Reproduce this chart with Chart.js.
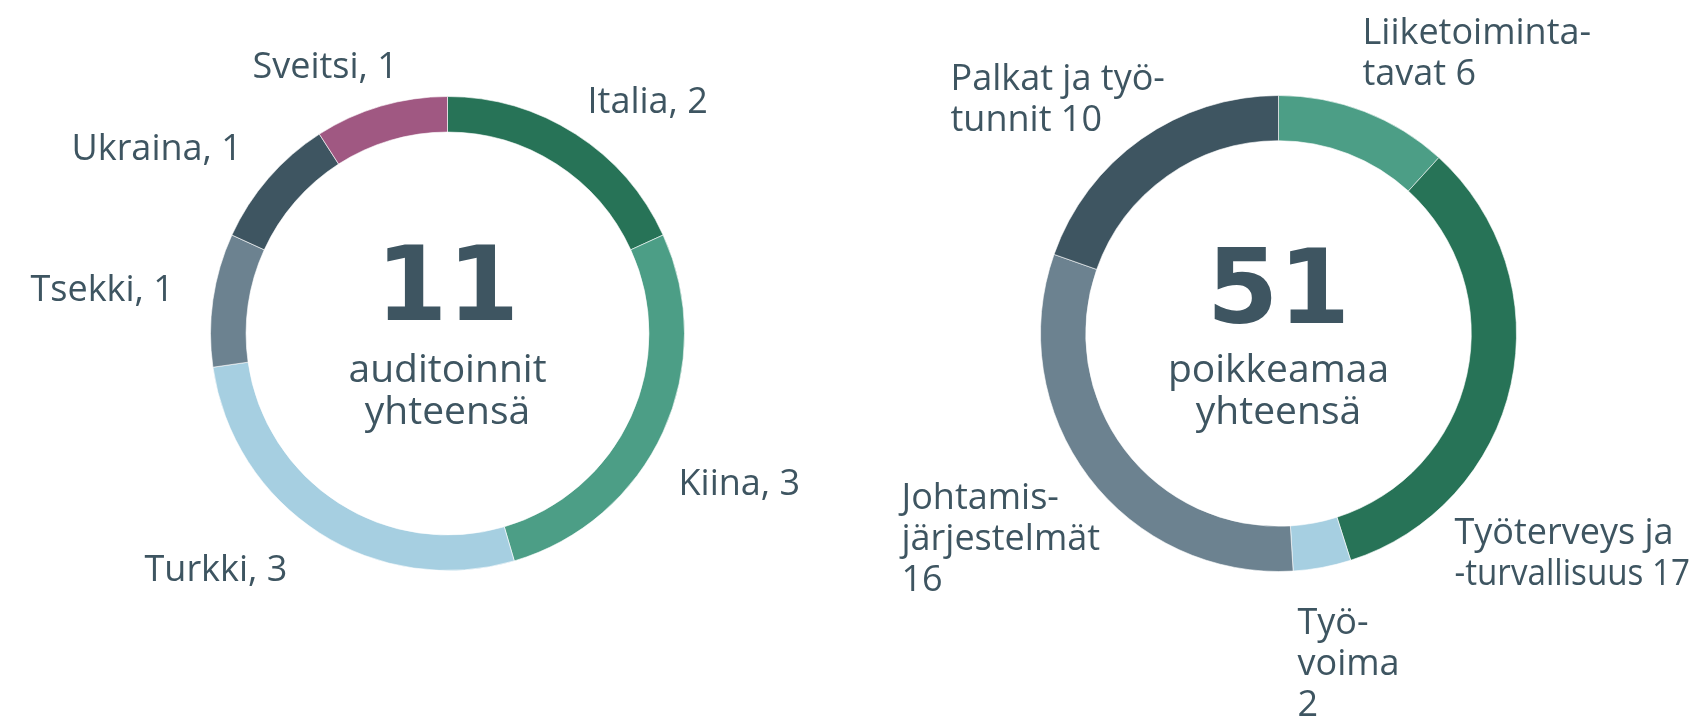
<!DOCTYPE html>
<html lang="fi">
<head>
<meta charset="utf-8">
<title>Auditoinnit ja poikkeamat</title>
<script src="https://cdn.jsdelivr.net/npm/chart.js@4/dist/chart.umd.min.js"></script>
<style>
  html, body { margin: 0; padding: 0; background: #fff; }
  .wrap { position: relative; width: 1696px; height: 718px; }
  canvas { position: absolute; top: 0; }
  #audits { left: 0; }
  #findings { left: 848px; }
</style>
</head>
<body>
<div class="wrap">
  <canvas id="audits" width="848" height="718"></canvas>
  <canvas id="findings" width="848" height="718"></canvas>
</div>
<script>
// Auditoinnit maittain
const auditCountries = ["Italia", "Kiina", "Turkki", "Tsekki", "Ukraina", "Sveitsi"];
const auditCounts = [2, 3, 3, 1, 1, 1];
const auditColors = ["#277357", "#4c9e86", "#a6cfe1", "#6c8290", "#3e5561", "#a05882"];

// Poikkeamat aihealueittain (rivit erikseen, koska nimet on tavutettu)
const findingTopics = [
  ["Liiketoiminta-", "tavat"],
  ["Työterveys ja", "-turvallisuus"],
  ["Työ-", "voima"],
  ["Johtamis-", "järjestelmät"],
  ["Palkat ja työ-", "tunnit"]
];
const findingCounts = [6, 17, 2, 16, 10];
const findingColors = ["#4c9e86", "#277357", "#a6cfe1", "#6c8290", "#3e5561"];

const textColor = "#3e5561";
const labelFont = "36px 'Open Sans', sans-serif";
const captionFont = "39px 'Open Sans', sans-serif";
const lineHeight = 41;

// label anchors, relative to the donut centre
const auditLabelPos = [[140, -231], [231, 151], [-303, 237], [-417, -43], [-376, -184], [-195, -266]];
const findingLabelPos = [[84, -300], [176, 200], [19, 290], [-377, 165], [-328, -254]];

const sum = arr => arr.reduce((a, b) => a + b, 0);

const donutDecor = {
  id: "donutDecor",
  afterDraw(chart, args, opts) {
    const ctx = chart.ctx;
    const arc = chart.getDatasetMeta(0).data[0];
    const cx = arc.x, cy = arc.y;
    const total = sum(chart.data.datasets[0].data);

    ctx.save();
    ctx.fillStyle = textColor;
    ctx.textAlign = "center";
    ctx.textBaseline = "alphabetic";
    ctx.font = "bold 103px 'DejaVu Sans', sans-serif";
    ctx.fillText(String(total), cx, cy + opts.numberShift);
    ctx.font = captionFont;
    ctx.fillText(opts.caption[0], cx, cy + 48);
    ctx.fillText(opts.caption[1], cx, cy + 90);

    ctx.font = labelFont;
    ctx.textAlign = "left";
    ctx.textBaseline = "middle";
    opts.lines.forEach((lines, i) => {
      const [dx, dy] = opts.pos[i];
      const x = cx + dx;
      // keep long labels inside the canvas
      const room = chart.width - x - 6;
      lines.forEach((t, j) => ctx.fillText(t, x, cy + dy + j * lineHeight, room));
    });
    ctx.restore();
  }
};

function donut(id, labels, values, colors, cutout, padding, numberShift, caption, lines, pos) {
  return new Chart(document.getElementById(id), {
    type: "doughnut",
    data: {
      labels: labels,
      datasets: [{
        data: values,
        backgroundColor: colors,
        borderColor: "rgba(255,255,255,0.6)",
        borderWidth: 1
      }]
    },
    options: {
      responsive: false,
      animation: false,
      cutout: cutout,
      layout: { padding: padding },
      plugins: {
        legend: { display: false },
        tooltip: { enabled: false },
        donutDecor: { numberShift: numberShift, caption: caption, lines: lines, pos: pos }
      }
    },
    plugins: [donutDecor]
  });
}

donut("audits", auditCountries, auditCounts, auditColors, "85%",
  { left: 210, right: 163, top: 96, bottom: 147 }, -14,
  ["auditoinnit", "yhteensä"],
  auditCountries.map((c, i) => [c + ", " + auditCounts[i]]),
  auditLabelPos);

donut("findings", findingTopics.map(t => t.join(" ")), findingCounts, findingColors, "81%",
  { left: 192, right: 179, top: 95, bottom: 146 }, -11,
  ["poikkeamaa", "yhteensä"],
  findingTopics.map((t, i) => {
    const rows = t.slice();
    if (i >= 2 && i <= 3) rows.push(String(findingCounts[i]));
    else rows[rows.length - 1] += " " + findingCounts[i];
    return rows;
  }),
  findingLabelPos);
</script>
</body>
</html>
